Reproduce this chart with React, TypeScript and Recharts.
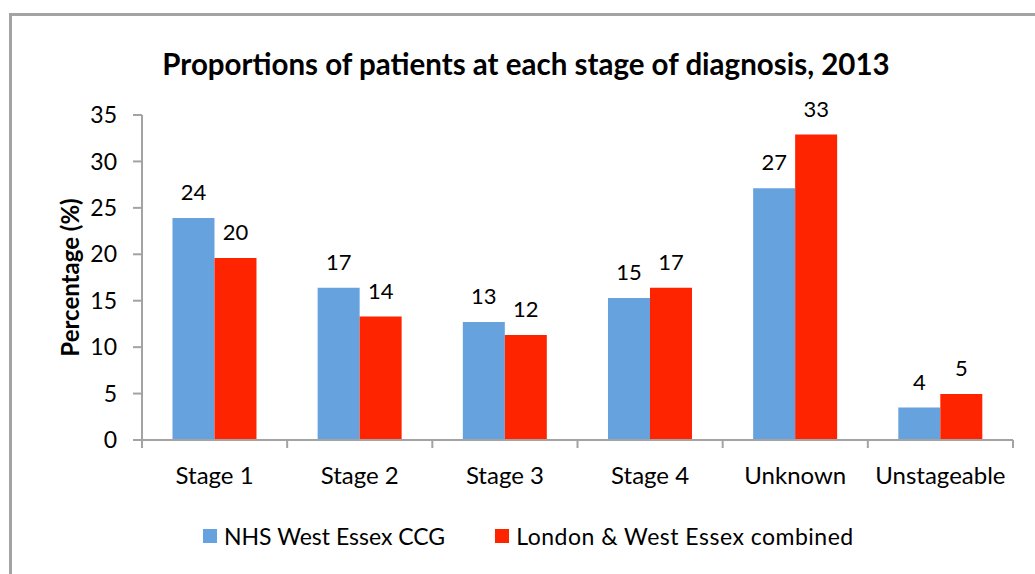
import React from "react";
import { BarChart, Bar, XAxis, YAxis, LabelList, Legend } from "recharts";

const categories = ["Stage 1", "Stage 2", "Stage 3", "Stage 4", "Unknown", "Unstageable"];
const westEssex = [23.9, 16.4, 12.7, 15.3, 27.1, 3.5];
const combined = [19.6, 13.3, 11.3, 16.4, 32.9, 4.95];
const westEssexLabels = ["24", "17", "13", "15", "27", "4"];
const combinedLabels = ["20", "14", "12", "17", "33", "5"];
const yTicks = [0, 5, 10, 15, 20, 25, 30, 35];

const seriesNames = ["NHS West Essex CCG", "London & West Essex combined"];
const BLUE = "#66A2DD";
const RED = "#FF2400";
const GREY = "#A3A3A3";
const FONT = "Lato, 'DejaVu Sans', sans-serif";

const data = categories.map((c, i) => ({
  name: c,
  west: westEssex[i],
  comb: combined[i],
  westLabel: westEssexLabels[i],
  combLabel: combinedLabels[i],
}));

const W = 1035;
const H = 574;
const MARGIN = { top: 115, right: 22, left: 42, bottom: 50 };
const Y_AXIS_W = 100;
const PLOT_W = W - MARGIN.left - MARGIN.right - Y_AXIS_W;
const BAND = PLOT_W / categories.length;

const CatTick = (props: any) => {
  const { x, y, payload, index } = props;
  const axisY = y - 8;
  const half = BAND / 2;
  return (
    <g>
      <line x1={x - half} x2={x - half} y1={axisY} y2={axisY + 8} stroke={GREY} strokeWidth={2} />
      {index === categories.length - 1 && (
        <line x1={x + half} x2={x + half} y1={axisY} y2={axisY + 8} stroke={GREY} strokeWidth={2} />
      )}
      <text x={x} y={axisY + 44} textAnchor="middle" fontSize={24} fontFamily={FONT} fill="#000">
        {payload.value}
      </text>
    </g>
  );
};

const LegendContent = () => (
  <div
    style={{
      height: 24,
      display: "flex",
      justifyContent: "flex-start",
      alignItems: "center",
      gap: 50,
      fontFamily: FONT,
      fontSize: 23,
      color: "#000",
    }}
  >
    {seriesNames.map((n, i) => (
      <div key={n} style={{ display: "flex", alignItems: "center", letterSpacing: i === 1 ? 0.5 : 0 }}>
        <span style={{ width: 14, height: 14, background: i === 0 ? BLUE : RED, display: "inline-block", marginRight: 7 }} />
        <span>{n}</span>
      </div>
    ))}
  </div>
);

const YLabel = (props: any) => {
  const vb = props.viewBox || {};
  const cx = vb.x + 27;
  const cy = vb.y + vb.height / 2;
  return (
    <text
      x={cx}
      y={cy}
      transform={`rotate(-90 ${cx} ${cy})`}
      textAnchor="middle"
      dominantBaseline="central"
      fontSize={24}
      fontWeight="bold"
      fontFamily={FONT}
      fill="#000"
    >
      Percentage (%)
    </text>
  );
};

export default function App() {
  return (
    <div style={{ position: "absolute", left: 0, top: 0, width: W, height: H, overflow: "hidden", background: "#fff" }}>
      <div
        style={{
          position: "absolute",
          left: 9,
          top: 13,
          width: 1200,
          height: 800,
          borderLeft: `3px solid ${GREY}`,
          borderTop: `3px solid ${GREY}`,
        }}
      />
      <div
        style={{
          position: "absolute",
          left: 126,
          width: 800,
          top: 47,
          lineHeight: "34px",
          textAlign: "center",
          fontFamily: FONT,
          fontWeight: "bold",
          fontSize: 29.5,
          color: "#000",
        }}
      >
        Proportions of patients at each stage of diagnosis, 2013
      </div>
      <div style={{ position: "absolute", left: 0, top: 0 }}>
        <BarChart width={W} height={H} data={data} margin={MARGIN} barCategoryGap="21%" barGap={0}>
          <XAxis
            dataKey="name"
            height={60}
            tickLine={false}
            tickSize={8}
            tickMargin={0}
            axisLine={{ stroke: GREY, strokeWidth: 2 }}
            tick={<CatTick />}
            interval={0}
          />
          <YAxis
            width={Y_AXIS_W}
            domain={[0, 35]}
            ticks={yTicks}
            interval={0}
            tickSize={9}
            tickMargin={16}
            tickLine={{ stroke: GREY, strokeWidth: 2 }}
            axisLine={{ stroke: GREY, strokeWidth: 2 }}
            tick={{ fontSize: 23, fontFamily: FONT, fill: "#000" }}
            label={<YLabel />}
          />
          <Legend
            verticalAlign="bottom"
            content={<LegendContent />}
            wrapperStyle={{ position: "absolute", top: 524, left: 203, width: 800, bottom: "auto" }}
          />
          <Bar dataKey="west" name={seriesNames[0]} fill={BLUE} isAnimationActive={false}>
            <LabelList dataKey="westLabel" position="top" offset={18} fontSize={22} fontFamily={FONT} fill="#000" />
          </Bar>
          <Bar dataKey="comb" name={seriesNames[1]} fill={RED} isAnimationActive={false}>
            <LabelList dataKey="combLabel" position="top" offset={18} fontSize={22} fontFamily={FONT} fill="#000" />
          </Bar>
        </BarChart>
      </div>
    </div>
  );
}
